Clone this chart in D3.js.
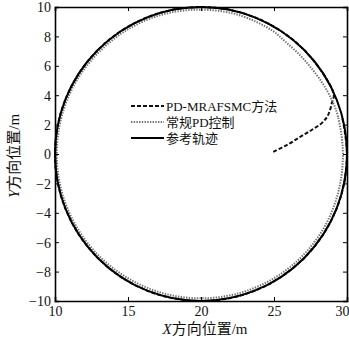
<!DOCTYPE html>
<html>
<head>
<meta charset="utf-8">
<script src="https://cdn.jsdelivr.net/npm/d3@7"></script>
<style>
  html, body { margin: 0; padding: 0; background: #fff; }
  svg { display: block; }
  .tick-label { font-family: "Liberation Serif", "DejaVu Serif", serif; font-size: 14px; fill: #111; }
  .legend-text { font-family: "Liberation Serif", "Noto Sans CJK SC", serif; font-size: 13px; fill: #111; }
  .axis-title { font-family: "Liberation Serif", "Noto Sans CJK SC", serif; font-size: 15px; fill: #111; }
</style>
</head>
<body>
<svg id="chart" width="349" height="339"></svg>
<script>
// Axis ticks
const xTicks = [10, 15, 20, 25, 30];
const yTicks = [-10, -8, -6, -4, -2, 0, 2, 4, 6, 8, 10];

// Reference trajectory: circle, centre and radius (m)
const refCenter = [20, 0];
const refRadius = 10;

// PD-MRAFSMC trajectory (m)
const mrX = [24.95, 25.9, 26.8, 27.6, 28.27, 28.65, 28.84, 28.97, 29.1,
  28.66, 27.07, 25.00, 22.59, 20.00, 17.41, 15.00, 12.93, 11.34, 10.34, 10.00,
  10.34, 11.34, 12.93, 15.00, 17.41, 20.00, 22.59, 25.00, 27.07, 28.66, 29.66, 30.00, 29.66];
const mrY = [0.15, 0.62, 1.17, 1.65, 2.10, 2.55, 3.00, 3.50, 4.00,
  5.00, 7.07, 8.66, 9.66, 10.00, 9.66, 8.66, 7.07, 5.00, 2.59, 0.00,
  -2.59, -5.00, -7.07, -8.66, -9.66, -10.00, -9.66, -8.66, -7.07, -5.00, -2.59, 0.00, 2.59];

// Conventional PD trajectory (m), closed loop
const pdX = [29.72, 29.39, 28.95, 28.30, 27.55, 26.78, 25.80, 24.88, 22.54, 20.00, 17.45, 15.08,
  13.04, 11.45, 10.46, 10.12, 10.46, 11.46, 13.04, 15.09, 17.46, 20.00, 22.54, 24.91,
  26.94, 28.49, 29.42];
const pdY = [0.00, 2.52, 3.70, 4.85, 5.85, 6.72, 7.62, 8.40, 9.47, 9.82, 9.51, 8.53,
  6.96, 4.94, 2.56, 0.00, -2.56, -4.93, -6.96, -8.50, -9.49, -9.82, -9.49, -8.50,
  -6.94, -4.90, -2.52];

const legendLabels = ["PD-MRAFSMC方法", "常规PD控制", "参考轨迹"];

const svg = d3.select("#chart");
const margin = { left: 55, right: 2, top: 7, bottom: 38 };
const W = 349, H = 339;
const x = d3.scaleLinear().domain([10, 30]).range([margin.left, W - margin.right]);
const y = d3.scaleLinear().domain([-10, 10]).range([H - margin.bottom, margin.top]);

const plot = svg.append("g");

const dashPattern = "4,2";
const dotPattern = "1.4,1.3";
const dotColor = "#727272";

// Trajectories
plot.append("path")
  .datum(d3.zip(mrX, mrY))
  .attr("d", d3.line().x(d => x(d[0])).y(d => y(d[1])).curve(d3.curveCatmullRom.alpha(0.5)))
  .attr("fill", "none")
  .attr("stroke", "#111")
  .attr("stroke-width", 2)
  .attr("stroke-dasharray", dashPattern);

plot.append("path")
  .datum(d3.zip(pdX, pdY))
  .attr("d", d3.line().x(d => x(d[0])).y(d => y(d[1])).curve(d3.curveCatmullRomClosed.alpha(0.5)))
  .attr("fill", "none")
  .attr("stroke", dotColor)
  .attr("stroke-width", 2)
  .attr("stroke-dasharray", dotPattern);

plot.append("ellipse")
  .attr("cx", x(refCenter[0]))
  .attr("cy", y(refCenter[1]))
  .attr("rx", x(refCenter[0] + refRadius) - x(refCenter[0]))
  .attr("ry", y(refCenter[1]) - y(refCenter[1] + refRadius))
  .attr("fill", "none")
  .attr("stroke", "#000")
  .attr("stroke-width", 2);

// Axes: ticks inward on all four sides
const tickLen = 4;
const fmt = d => d < 0 ? "\u2212" + Math.abs(d) : String(d);

const axBottom = svg.append("g").attr("transform", `translate(0,${y(-10)})`)
  .call(d3.axisBottom(x).tickValues(xTicks).tickSize(-tickLen).tickPadding(5).tickFormat(fmt));
const axTop = svg.append("g").attr("transform", `translate(0,${y(10)})`)
  .call(d3.axisTop(x).tickValues(xTicks).tickSize(-tickLen).tickFormat(""));
const axLeft = svg.append("g").attr("transform", `translate(${x(10)},0)`)
  .call(d3.axisLeft(y).tickValues(yTicks).tickSize(-tickLen).tickPadding(4).tickFormat(fmt));
const axRight = svg.append("g").attr("transform", `translate(${x(30)},0)`)
  .call(d3.axisRight(y).tickValues(yTicks).tickSize(-tickLen).tickFormat(""));

[axBottom, axTop, axLeft, axRight].forEach(a => {
  a.select(".domain").attr("stroke", "#000").attr("stroke-width", 1.6);
  a.selectAll(".tick line").attr("stroke", "#000").attr("stroke-width", 1);
  a.selectAll(".tick text").attr("class", "tick-label").attr("font-family", null).attr("font-size", null);
});
axLeft.selectAll(".tick text").attr("dy", "0.35em");
// keep the last x label inside the frame edge
axBottom.selectAll(".tick text").filter(d => d === 30).attr("text-anchor", "end").attr("x", 2);

// Legend
const legendItems = [
  { label: legendLabels[0], stroke: "#111", dash: dashPattern },
  { label: legendLabels[1], stroke: dotColor, dash: dotPattern },
  { label: legendLabels[2], stroke: "#000", dash: null }
];
const lg = svg.append("g").attr("transform", "translate(131,106)");
legendItems.forEach((it, i) => {
  const row = lg.append("g").attr("transform", `translate(0,${i * 16})`);
  row.append("line").attr("x1", 0).attr("x2", 33).attr("y1", 0).attr("y2", 0)
    .attr("stroke", it.stroke).attr("stroke-width", 2)
    .attr("stroke-dasharray", it.dash);
  row.append("text").attr("class", "legend-text").attr("x", 35).attr("y", 0)
    .attr("dy", "0.35em").text(it.label);
});

// Axis titles
const xt = svg.append("text").attr("class", "axis-title")
  .attr("x", 205).attr("y", 334).attr("text-anchor", "middle");
xt.append("tspan").attr("font-style", "italic").text("X");
xt.append("tspan").text("方向位置/m");

const yt = svg.append("text").attr("class", "axis-title")
  .attr("transform", "translate(19,156) rotate(-90)").attr("text-anchor", "middle");
yt.append("tspan").attr("font-style", "italic").text("Y");
yt.append("tspan").text("方向位置/m");
</script>
</body>
</html>
